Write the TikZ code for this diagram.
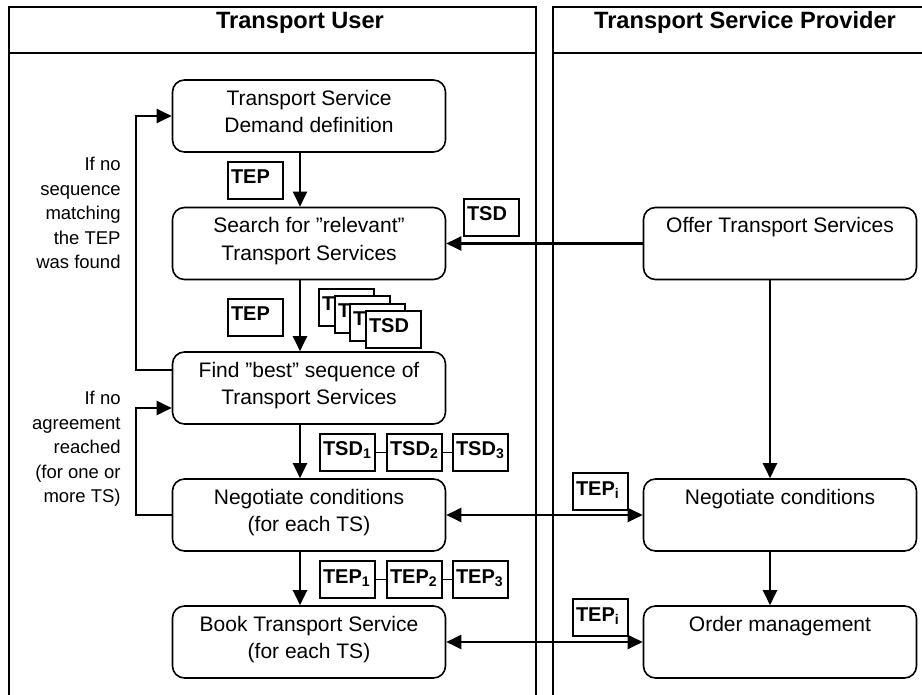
\documentclass[tikz,border=0pt]{standalone}
\usepackage{fontspec}
\setmainfont{Liberation Sans}
\usetikzlibrary{arrows.meta}

\begin{document}
\begin{tikzpicture}[x=0.5pt, y=-0.5pt,
	lane/.style = {line width=0.9pt},
	proc/.style = {draw, line width=0.8pt, rounded corners=6pt, minimum width=136.5pt, minimum height=36pt, align=center, inner sep=0pt, text depth=4.75pt, font=\fontsize{10.5}{13.85}\selectfont},
	tag/.style = {draw, line width=1pt, fill=white, anchor=north west, text width=24.5pt, align=left, inner xsep=1.5pt, inner ysep=0pt, text height=11pt, text depth=7.5pt, font=\bfseries\fontsize{10}{12}\selectfont},
	link/.style = {line width=0.9pt},
	note/.style = {anchor=north east, align=right, inner sep=0pt, font=\fontsize{9.25}{12.25}\selectfont},
	head/.style = {anchor=base, font=\bfseries\fontsize{11.8}{14}\selectfont},
	flow/.style = {line width=1.1pt, -{Triangle[length=7.5pt, width=7pt]}},
	both/.style = {line width=1.1pt, {Triangle[length=7.5pt, width=7pt]}-{Triangle[length=7.5pt, width=7pt]}}]
	\useasboundingbox (0,0) rectangle (922,695);
	\clip (0,0) rectangle (922,695);

	% swim lanes
	\draw[lane] (9,7) rectangle (536,720);
	\draw[lane] (9,53) -- (536,53);
	\draw[lane] (553,7) rectangle (950,720);
	\draw[lane] (553,53) -- (950,53);
	\node[head] (user) at (300,29) {Transport User};
	\node[head] (provider) at (745,29) {Transport Service Provider};

	% user side
	\node[proc] (demand) at (309,116) {Transport Service\\Demand definition};
	\node[proc] (search) at (309,243.5) {Search for ”relevant”\\Transport Services};
	\node[proc] (best) at (309,388) {Find ”best” sequence of\\Transport Services};
	\node[proc] (negot) at (309,515) {Negotiate conditions\\(for each TS)};
	\node[proc] (book) at (309,642) {Book Transport Service\\(for each TS)};

	% provider side
	\node[proc] (offer) at (780,243.5) {Offer Transport Services\\\mbox{}};
	\node[proc] (negprov) at (780,515) {Negotiate conditions\\\mbox{}};
	\node[proc] (order) at (780,642) {Order management\\\mbox{}};

	\draw[flow] ([xshift=-4.5pt]demand.south) -- ([xshift=-4.5pt]search.north);
	\draw[flow] ([xshift=-4.5pt]search.south) -- ([xshift=-4.5pt]best.north);
	\draw[flow] ([xshift=-4.5pt]best.south) -- ([xshift=-4.5pt]negot.north);
	\draw[flow] ([xshift=-4.5pt]negot.south) -- ([xshift=-4.5pt]book.north);
	\draw[flow] (offer.west) -- (search.east);
	\draw[flow] ([xshift=-5pt]offer.south) -- ([xshift=-5pt]negprov.north);
	\draw[flow] ([xshift=-5pt]negprov.south) -- ([xshift=-5pt]order.north);
	\draw[both] (negot.east) -- (negprov.west);
	\draw[both] (book.east) -- (order.west);

	% loops back
	\draw[flow] ([yshift=9pt]best.west) -- ++(-36,0) |- (demand.west);
	\draw[flow] (negot.west) -- ++(-36,0) |- ([yshift=-10pt]best.west);
	\node[note] (nomatch) at (121,157) {If no\\sequence\\matching\\the TEP\\was found};
	\node[note] (noagree) at (121,391) {If no\\agreement\\reached\\(for one or\\more TS)};

	% documents passed along
	\node[tag] (tepa) at (227,161) {TEP};
	\node[tag] (tepb) at (227,298) {TEP};
	\foreach \i/\x/\y in {1/318/288, 2/334/295, 3/349/303, 4/365/310}
		\node[tag] (stack\i) at (\x,\y) {TSD};
	\node[tag] (tsdo) at (463,198) {TSD};
	\foreach \i/\x in {1/319, 2/386, 3/452} {
		\node[tag] (tsd\i) at (\x,433) {TSD\textsubscript{\i}};
		\node[tag] (tep\i) at (\x,560) {TEP\textsubscript{\i}};
	}
	\draw[link] (tsd1) -- (tsd2) -- (tsd3);
	\draw[link] (tep1) -- (tep2) -- (tep3);
	\node[tag] (tepia) at (572,472) {TEP\textsubscript{i}};
	\node[tag] (tepib) at (572,598) {TEP\textsubscript{i}};
\end{tikzpicture}
\end{document}
